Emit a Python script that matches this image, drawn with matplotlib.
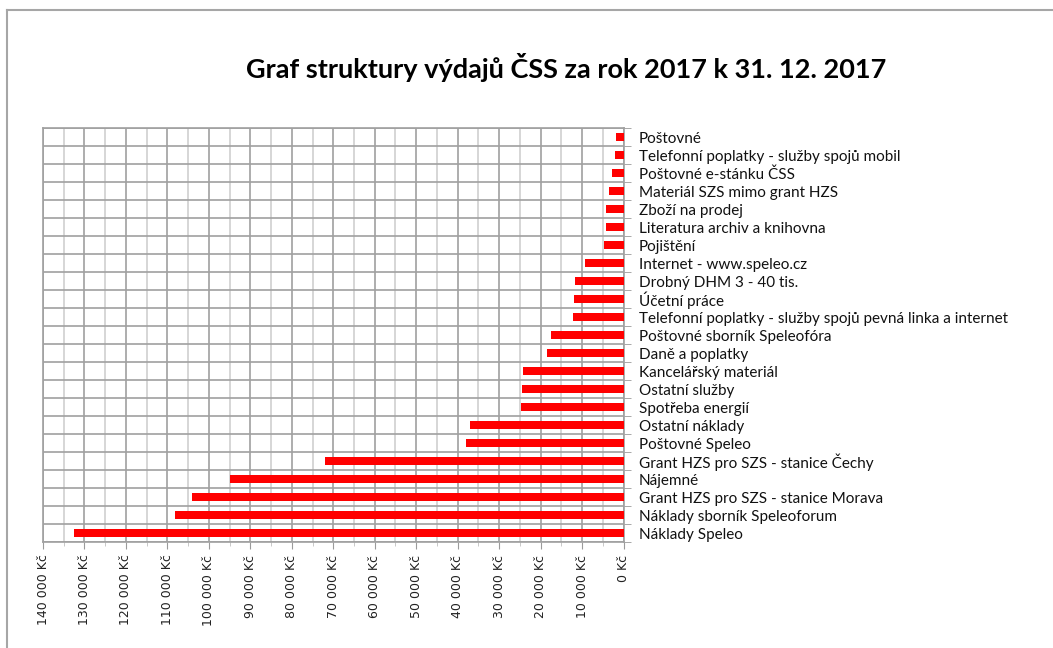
import matplotlib
matplotlib.use("Agg")
import matplotlib.pyplot as plt
from matplotlib.lines import Line2D
import numpy as np

categories = [
    "Poštovné",
    "Telefonní poplatky - služby spojů mobil",
    "Poštovné e-stánku ČSS",
    "Materiál SZS mimo grant HZS",
    "Zboží na prodej",
    "Literatura archiv a knihovna",
    "Pojištění",
    "Internet - www.speleo.cz",
    "Drobný DHM 3 - 40 tis.",
    "Účetní práce",
    "Telefonní poplatky - služby spojů pevná linka a internet",
    "Poštovné sborník Speleofóra",
    "Daně a poplatky",
    "Kancelářský materiál",
    "Ostatní služby",
    "Spotřeba energií",
    "Ostatní náklady",
    "Poštovné Speleo",
    "Grant HZS pro SZS - stanice Čechy",
    "Nájemné",
    "Grant HZS pro SZS - stanice Morava",
    "Náklady sborník Speleoforum",
    "Náklady Speleo",
]
values = [
    1900, 2100, 2700, 3400, 4200, 4300, 4700, 9200, 11800, 12000, 12200,
    17500, 18500, 24300, 24500, 24800, 36900, 38000, 71900, 95000,
    104000, 108200, 132500,
]
tick_values = [140000, 130000, 120000, 110000, 100000, 90000, 80000, 70000,
               60000, 50000, 40000, 30000, 20000, 10000, 0]
tick_labels = ["140 000 Kč", "130 000 Kč", "120 000 Kč", "110 000 Kč",
               "100 000 Kč", "90 000 Kč", "80 000 Kč", "70 000 Kč",
               "60 000 Kč", "50 000 Kč", "40 000 Kč", "30 000 Kč",
               "20 000 Kč", "10 000 Kč", "0 Kč"]
title = "Graf struktury výdajů ČSS za rok 2017 k 31. 12. 2017"

W, H = 1053, 648
fig = plt.figure(figsize=(W / 100, H / 100), dpi=100)

# outer chart border
fig.add_artist(Line2D([7 / W, 1.0], [1 - 10 / H, 1 - 10 / H], transform=fig.transFigure,
                      color="#a6a6a6", lw=1.5))
fig.add_artist(Line2D([7 / W, 7 / W], [0.0, 1 - 10 / H], transform=fig.transFigure,
                      color="#a6a6a6", lw=1.5))

left, right, top, bottom = 43, 623.5, 128, 542
ax = fig.add_axes([left / W, 1 - bottom / H, (right - left) / W, (bottom - top) / H])

n = len(categories)
y = np.arange(n)
ax.barh(y, values, height=0.45, color="#ff0000", zorder=3)

ax.set_xlim(140000, 0)
ax.set_ylim(n - 0.5, -0.5)

ax.set_xticks(tick_values)
ax.set_xticklabels(tick_labels, rotation=90, fontsize=9, family="DejaVu Sans", color="#222222")
ax.set_xticks(np.arange(5000, 140000, 10000), minor=True)

ax.yaxis.tick_right()
ax.set_yticks(y)
ax.set_yticklabels(categories, fontsize=11, family="Lato", color="#111111")
ax.set_yticks(np.arange(-0.5, n, 1.0), minor=True)
ax.tick_params(axis="y", which="major", length=0, pad=11)
ax.tick_params(axis="y", which="minor", length=5, color="#9a9a9a", direction="out")
ax.tick_params(axis="x", which="major", length=5, color="#9a9a9a", direction="out", pad=4)
ax.tick_params(axis="x", which="minor", length=3, color="#bfbfbf", direction="out")

ax.grid(True, axis="x", which="major", color="#a0a0a0", lw=1.2, zorder=0)
ax.grid(True, axis="x", which="minor", color="#d0d0d0", lw=1.2, zorder=0)
ax.grid(True, axis="y", which="minor", color="#a0a0a0", lw=1.2, zorder=0)

for s in ax.spines.values():
    s.set_color("#a0a0a0")
    s.set_linewidth(1.2)

fig.text(566 / W, 1 - 67 / H, title, ha="center", va="center", fontsize=19.5,
         fontweight="bold", family="Lato", color="#000000")

fig.savefig("out.png", dpi=100, facecolor="white")
